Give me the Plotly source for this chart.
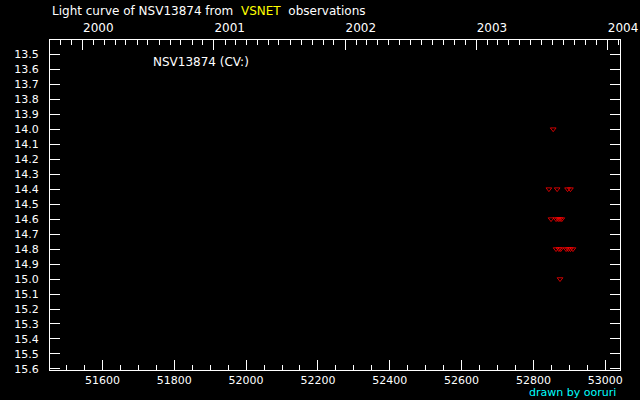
from datetime import datetime, timedelta

import plotly.graph_objects as go

# observations (JD - 2400000, visual magnitude)
JD = [52855, 52843, 52866, 52895, 52903, 52849, 52863, 52869, 52874, 52879,
      52863, 52871, 52876, 52891, 52897, 52903, 52910, 52874]
MAG = [14.0, 14.4, 14.4, 14.4, 14.4, 14.6, 14.6, 14.6, 14.6, 14.6,
       14.8, 14.8, 14.8, 14.8, 14.8, 14.8, 14.8, 15.0]

JD_RANGE = [51454, 53041]
MAG_RANGE = [15.607, 13.405]
MAG_TICKS = [round(13.5 + 0.1 * i, 1) for i in range(22)]

COLORS = {"bg": "#000000", "fg": "#ffffff", "mark": "#ff0000",
          "accent": "#ffff00", "credit": "#00ffff"}


def jd_to_date(jd: float) -> str:
    # JD 2451544.5 = 2000-01-01 00:00 UT
    d = datetime(2000, 1, 1) + timedelta(days=jd - 51544.5)
    return d.strftime("%Y-%m-%d %H:%M")


fig = go.Figure()
fig.add_trace(
    go.Scatter(
        x=JD,
        y=MAG,
        mode="markers",
        marker={"symbol": "triangle-down-open", "size": 5, "color": COLORS["mark"],
                "line": {"width": 0.8, "color": COLORS["mark"]}},
        showlegend=False,
        hovertemplate="JD %{x}<br>%{y:.1f} mag<extra></extra>",
    )
)
# invisible trace to bring up the top (calendar) axis
fig.add_trace(
    go.Scatter(
        x=[jd_to_date(JD_RANGE[0])],
        y=[MAG_RANGE[0]],
        xaxis="x2",
        mode="markers",
        marker={"opacity": 0},
        showlegend=False,
        hoverinfo="skip",
    )
)

fig.update_layout(
    width=640,
    height=400,
    paper_bgcolor=COLORS["bg"],
    plot_bgcolor=COLORS["bg"],
    font={"family": "DejaVu Sans", "color": COLORS["fg"]},
    margin={"l": 50, "r": 20, "t": 40, "b": 30, "autoexpand": False},
    xaxis={
        "range": JD_RANGE,
        "automargin": False,
        "showgrid": False,
        "zeroline": False,
        "showline": True,
        "linecolor": COLORS["fg"],
        "linewidth": 1,
        "mirror": True,
        "ticks": "inside",
        "tickcolor": COLORS["fg"],
        "ticklen": 10,
        "tickwidth": 1,
        "dtick": 200,
        "tick0": 51600,
        "tickformat": "d",
        "tickfont": {"size": 11, "color": COLORS["fg"]},
        "ticklabelstandoff": 0,
        "minor": {"dtick": 50, "ticks": "inside", "ticklen": 5,
                  "tickcolor": COLORS["fg"], "showgrid": False},
    },
    xaxis2={
        "type": "date",
        "overlaying": "x",
        "side": "top",
        "automargin": False,
        "range": [jd_to_date(JD_RANGE[0]), jd_to_date(JD_RANGE[1])],
        "showgrid": False,
        "zeroline": False,
        "showline": False,
        "ticks": "inside",
        "tickcolor": COLORS["fg"],
        "ticklen": 10,
        "tickwidth": 1,
        "dtick": "M12",
        "tick0": "2000-01-01",
        "tickformat": "%Y",
        "ticklabelposition": "outside right",
        "tickfont": {"size": 12, "color": COLORS["fg"]},
        "ticklabelstandoff": 5,
        "minor": {"dtick": "M1", "ticks": "inside", "ticklen": 5,
                  "tickcolor": COLORS["fg"], "showgrid": False},
    },
    yaxis={
        "range": MAG_RANGE,
        "automargin": False,
        "showgrid": False,
        "zeroline": False,
        "showline": True,
        "linecolor": COLORS["fg"],
        "linewidth": 1,
        "mirror": "ticks",
        "ticks": "inside",
        "tickcolor": COLORS["fg"],
        "ticklen": 10,
        "tickwidth": 1,
        "tickvals": MAG_TICKS,
        "ticktext": [f"{v:.1f}" for v in MAG_TICKS],
        "tickfont": {"size": 11, "color": COLORS["fg"]},
        "ticklabelstandoff": 8,
    },
)

fig.add_annotation(
    text=("Light curve of NSV13874 from  "
          f"<span style='color:{COLORS['accent']}'>VSNET</span>  observations"),
    xref="paper", yref="paper", x=0, y=1, yshift=20,
    xanchor="left", yanchor="bottom", showarrow=False,
    font={"size": 12, "color": COLORS["fg"]},
)
fig.add_annotation(
    text="NSV13874 (CV:)",
    xref="paper", yref="paper", x=0.177, y=0.933,
    xanchor="left", yanchor="middle", showarrow=False,
    font={"size": 12, "color": COLORS["fg"]},
)
fig.add_annotation(
    text="drawn by ooruri",
    xref="paper", yref="paper", x=1, y=0, xshift=-3, yshift=-30,
    xanchor="right", yanchor="bottom", showarrow=False, borderpad=0,
    font={"size": 11, "color": COLORS["credit"]},
)

# drop the browser's default 8px page margin so the 640x400 figure fills the window
fig.write_html(
    "out.html",
    config={"displayModeBar": False},
    post_script="document.body.style.margin='0';document.body.style.background='#000';",
)
